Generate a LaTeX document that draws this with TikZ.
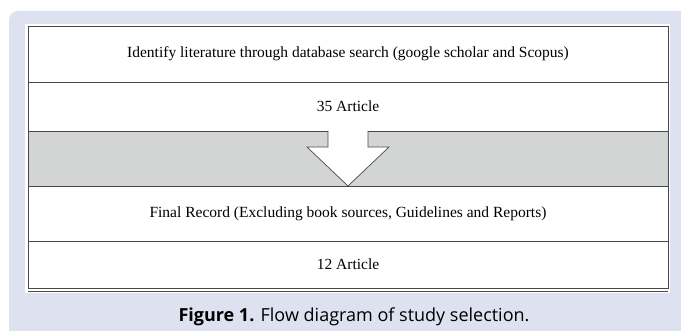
\documentclass[tikz,border=0pt]{standalone}
\usepackage{fontspec}
\setmainfont{Liberation Serif}
\newfontfamily\capfont{Open Sans}
\usetikzlibrary{positioning,calc}
\definecolor{panelblue}{RGB}{221,225,240}
\definecolor{gapgray}{RGB}{211,213,213}
\definecolor{boxline}{RGB}{72,72,72}
\tikzset{
  recbox/.style={draw=boxline,line width=0.9pt,fill=white,minimum width=640pt,
    inner sep=0pt,outer sep=0pt,font=\fontsize{15.5}{18}\selectfont},
  captext/.style={font=\capfont\fontsize{18}{21}\selectfont,inner sep=0pt}
}

\begin{document}
\begin{tikzpicture}[x=1pt,y=-1pt]
  \useasboundingbox (0,0) rectangle (681,331);
  \fill[panelblue,rounded corners=9pt] (9,11) rectangle (700,350); % background panel
  \fill[white] (25,24) rectangle (670,293); % figure area

  \node[recbox,minimum height=56pt] (ident) at (348,54)
    {Identify literature through database search (google scholar and Scopus)};
  \node[recbox,minimum height=49pt,below=0pt of ident] (count1) {35 Article};
  \node[recbox,minimum height=55pt,fill=gapgray,below=0pt of count1] (gap) {};
  \node[recbox,minimum height=55pt,below=0pt of gap] (final)
    {Final Record (Excluding book sources, Guidelines and Reports)};
  \node[recbox,minimum height=47pt,below=0pt of final] (count2) {12 Article};
  \draw[boxline,line width=0.9pt] ($(count2.south west)+(0,3)$) -- ($(count2.south east)+(0,3)$); % double rule

  % block arrow
  \draw[boxline,fill=white,line width=0.7pt,line join=miter]
    ($(count1.south)+(-20,0)$) -- ++(0,16) -- ++(-21,0) -- (gap.south)
    -- ($(count1.south)+(41,16)$) -- ++(-21,0) -- ++(0,-16);

  \node[captext] (caption) at (354,317) {\textbf{Figure 1.} Flow diagram of study selection.};
\end{tikzpicture}
\end{document}
